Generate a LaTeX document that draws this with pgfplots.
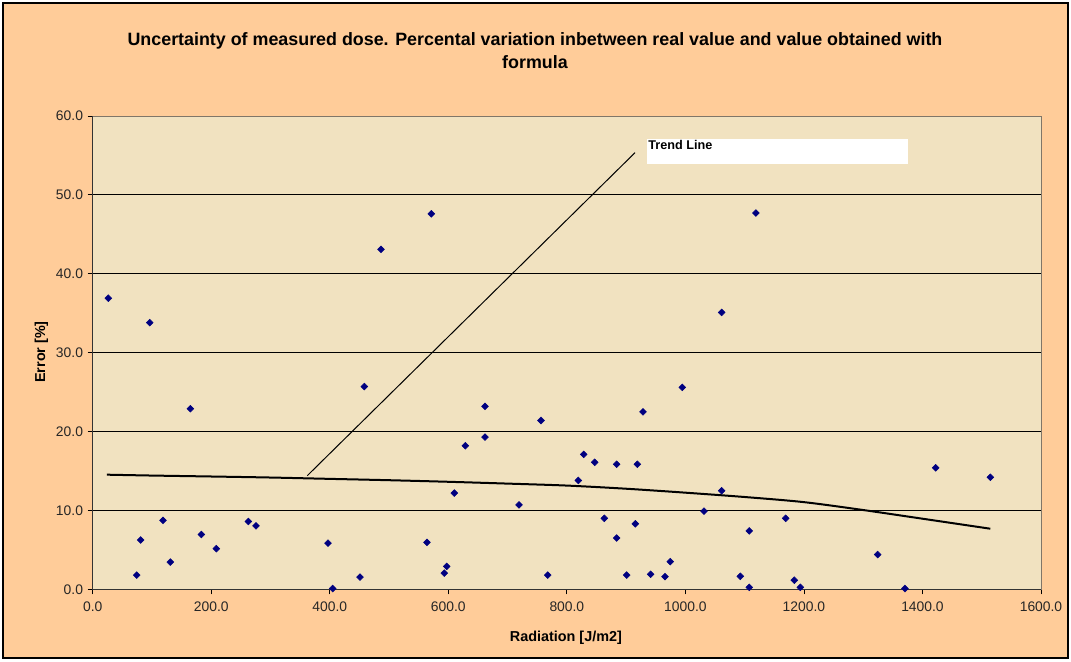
\documentclass[border=0pt]{standalone}
\usepackage{pgfplots}
\usepackage{pgfplotstable}
\pgfplotsset{compat=1.18}
\usepackage{fontspec}
\setmainfont{Liberation Sans}

\definecolor{chartbg}{RGB}{255,204,153}
\definecolor{plotbg}{RGB}{241,226,192}
\definecolor{marknavy}{RGB}{0,0,128}
\definecolor{frameclr}{RGB}{128,118,104}

% measured error vs. radiation
\pgfplotstableread{
x y
26.3 36.9
74.2 1.8
81.0 6.25
96.2 33.8
118.6 8.75
131.0 3.45
164.8 22.9
183.3 6.95
208.6 5.15
262.6 8.6
275.5 8.05
397.0 5.85
405.0 0.1
451.0 1.55
458.3 25.7
486.4 43.1
564.0 5.95
571.3 47.6
593.3 2.05
597.3 2.9
610.1 12.2
628.7 18.2
661.9 23.2
661.9 19.3
719.3 10.7
756.4 21.4
767.7 1.8
819.3 13.8
828.4 17.1
847.0 16.1
863.2 9.0
884.1 15.85
884.1 6.5
900.9 1.8
915.5 8.3
918.9 15.85
928.5 22.5
941.4 1.9
965.6 1.6
974.5 3.5
994.8 25.6
1031.4 9.9
1061.2 35.1
1061.2 12.5
1092.6 1.65
1107.8 7.4
1107.8 0.25
1119.0 47.7
1169.2 9.0
1183.7 1.15
1193.9 0.25
1324.4 4.4
1370.5 0.1
1422.3 15.4
1514.5 14.2
}\doseerror

% fitted trend
\pgfplotstableread{
x y
24 14.53
100 14.42
200 14.30
300 14.17
400 14.00
500 13.83
600 13.63
700 13.40
800 13.15
900 12.75
1000 12.25
1100 11.70
1200 11.05
1300 10.05
1400 8.95
1514.5 7.68
}\trend

\begin{document}
\begin{tikzpicture}
% page and chart area (origin at the plot's lower-left corner)
\fill[white] (-69.525pt,-53.775pt) rectangle (733.725pt,441.975pt);
\filldraw[fill=chartbg, draw=black, line width=1.5pt]
  (-67.275pt,-51.525pt) rectangle (731.475pt,439.725pt);

\begin{axis}[
  at={(0pt,0pt)}, anchor=south west,
  scale only axis, width=711.225pt, height=354.975pt,
  xmin=0, xmax=1600, ymin=0, ymax=60,
  xtick distance=200, ytick distance=10,
  axis background/.style={fill=plotbg},
  axis line style={frameclr, line width=0.75pt},
  ymajorgrids,
  major grid style={black, line width=0.6pt},
  tick align=outside,
  xtick pos=left, ytick pos=left,
  major tick length=3.75pt,
  tick style={black, line width=0.6pt},
  tick label style={font=\fontsize{10.4}{12}\selectfont, text=black!85},
  xticklabel style={yshift=-2pt},
  /pgf/number format/.cd, fixed, fixed zerofill, precision=1, 1000 sep={},
  assume math mode=true,
  /pgfplots/.cd,
  clip=false,
]
\draw[black!80, line width=0.75pt]
  (rel axis cs:0,1) -- (rel axis cs:0,0) -- (rel axis cs:1,0);

\addplot[only marks, mark=square*, mark size=1.8pt,
  mark options={rotate=45, fill=marknavy, draw=marknavy}] table {\doseerror};

\addplot[black, line width=1.5pt, smooth] table {\trend};

% callout for the trend line
\draw[black, line width=0.75pt] (axis cs:362,14.4) -- (axis cs:915,55.35);
\fill[white] (axis cs:934.7,53.95) rectangle (axis cs:1375,57.12);
\node[anchor=north west, inner sep=0pt, font=\bfseries\fontsize{9.5}{11}\selectfont]
  at (axis cs:937,56.95) {Trend Line};
\end{axis}

% titles
\node[anchor=base, font=\bfseries\fontsize{13.4}{16}\selectfont] at (331.725pt,407.475pt)
  {Uncertainty of measured dose. Percental variation inbetween real value and value obtained with};
\node[anchor=base, font=\bfseries\fontsize{13.4}{16}\selectfont] at (331.725pt,390.6pt) {formula};
\node[anchor=base, font=\bfseries\fontsize{10.8}{13}\selectfont] at (354.9pt,-38.775pt) {Radiation [J/m2]};
\node[anchor=base, rotate=90, font=\bfseries\fontsize{10.8}{13}\selectfont] at (-35.775pt,177.975pt) {Error [\%]};
\end{tikzpicture}
\end{document}
